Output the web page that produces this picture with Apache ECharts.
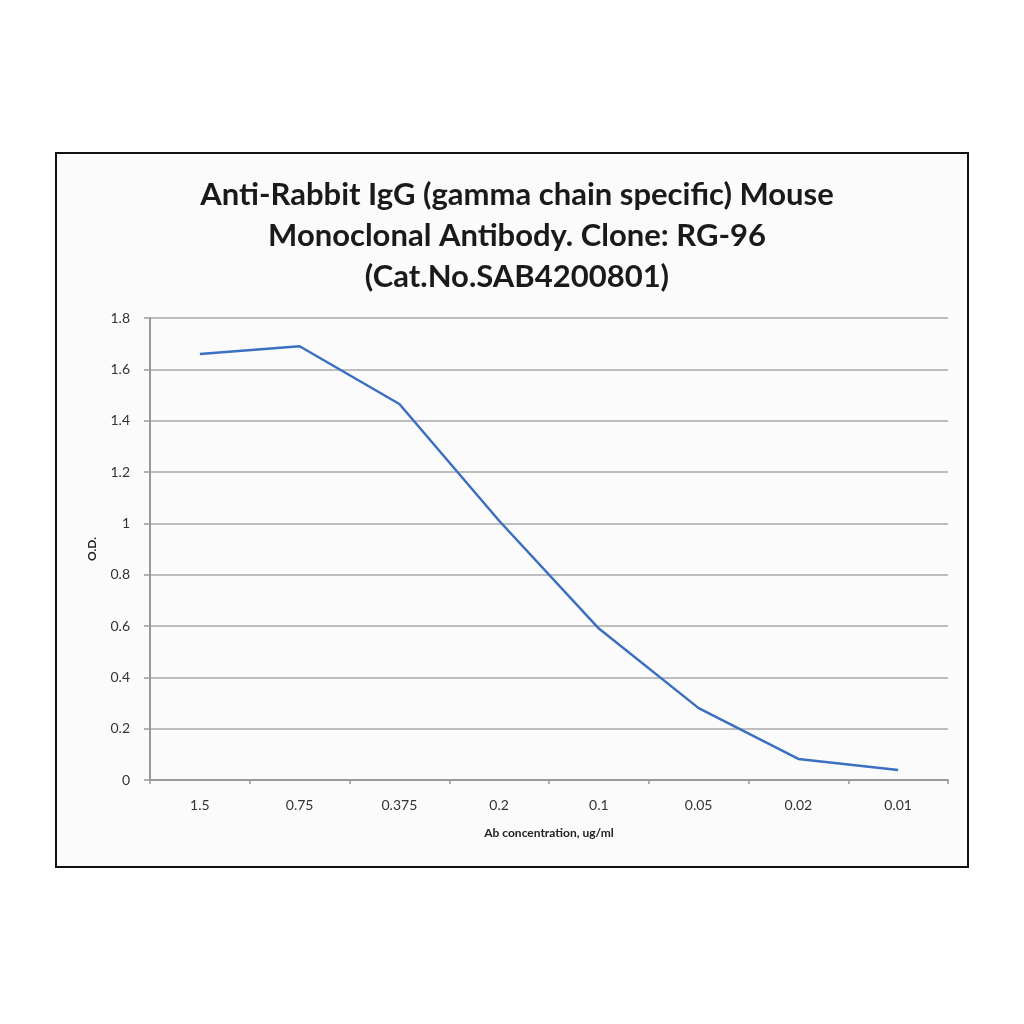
<!DOCTYPE html>
<html>
<head>
<meta charset="utf-8">
<script src="https://cdn.jsdelivr.net/npm/echarts@6/dist/echarts.min.js"></script>
<style>
html,body{margin:0;padding:0;background:#fff;}
#main{width:1024px;height:1024px;}
</style>
</head>
<body>
<div id="main"></div>
<script>
var concentrations = ['1.5', '0.75', '0.375', '0.2', '0.1', '0.05', '0.02', '0.01'];
var odValues = [1.66, 1.69, 1.465, 1.01, 0.59, 0.28, 0.082, 0.039];
var yTicks = [0, 0.2, 0.4, 0.6, 0.8, 1, 1.2, 1.4, 1.6, 1.8];

var chart = echarts.init(document.getElementById('main'));
chart.setOption({
  backgroundColor: '#ffffff',
  animation: false,
  graphic: [{
    type: 'rect',
    z: -1,
    shape: {x: 56, y: 153, width: 912, height: 714},
    style: {fill: '#fbfbfb', stroke: '#111', lineWidth: 2}
  }],
  title: {
    text: 'Anti-Rabbit IgG (gamma chain specific) Mouse\nMonoclonal Antibody. Clone: RG-96\n(Cat.No.SAB4200801)',
    left: 512,
    top: 169,
    textAlign: 'center',
    textStyle: {
      fontFamily: 'Lato',
      fontWeight: 'bold',
      fontSize: 31,
      lineHeight: 41,
      color: '#1a1a1a'
    }
  },
  grid: {left: 150, right: 76, top: 318, bottom: 244},
  xAxis: {
    type: 'category',
    data: concentrations,
    boundaryGap: true,
    name: 'Ab concentration, ug/ml',
    nameLocation: 'middle',
    nameGap: 47,
    nameTextStyle: {fontFamily: 'Lato', fontWeight: 'bold', fontSize: 12, color: '#222'},
    axisLine: {lineStyle: {color: '#999', width: 2}},
    axisTick: {show: true, length: 4, lineStyle: {color: '#999', width: 1.5}},
    axisLabel: {fontFamily: 'Lato', fontSize: 14, color: '#333', margin: 18}
  },
  yAxis: {
    type: 'value',
    min: 0,
    max: 1.8,
    interval: 0.2,
    name: 'O.D.',
    nameLocation: 'middle',
    nameGap: 52,
    nameRotate: 90,
    nameTextStyle: {fontFamily: 'Lato', fontWeight: 'bold', fontSize: 12, color: '#222'},
    axisLine: {show: true, lineStyle: {color: '#999', width: 2}},
    axisTick: {show: true, length: 6, lineStyle: {color: '#999', width: 1.5}},
    axisLabel: {
      fontFamily: 'Lato', fontSize: 14, color: '#333', margin: 20,
      formatter: function (v) {
        for (var i = 0; i < yTicks.length; i++) {
          if (Math.abs(yTicks[i] - v) < 1e-6) return String(yTicks[i]);
        }
        return '';
      }
    },
    splitLine: {lineStyle: {color: '#bdbdbd', width: 2}}
  },
  series: [{
    type: 'line',
    data: odValues,
    symbol: 'none',
    lineStyle: {color: '#3b6fc0', width: 2.5}
  }]
});
</script>
</body>
</html>
